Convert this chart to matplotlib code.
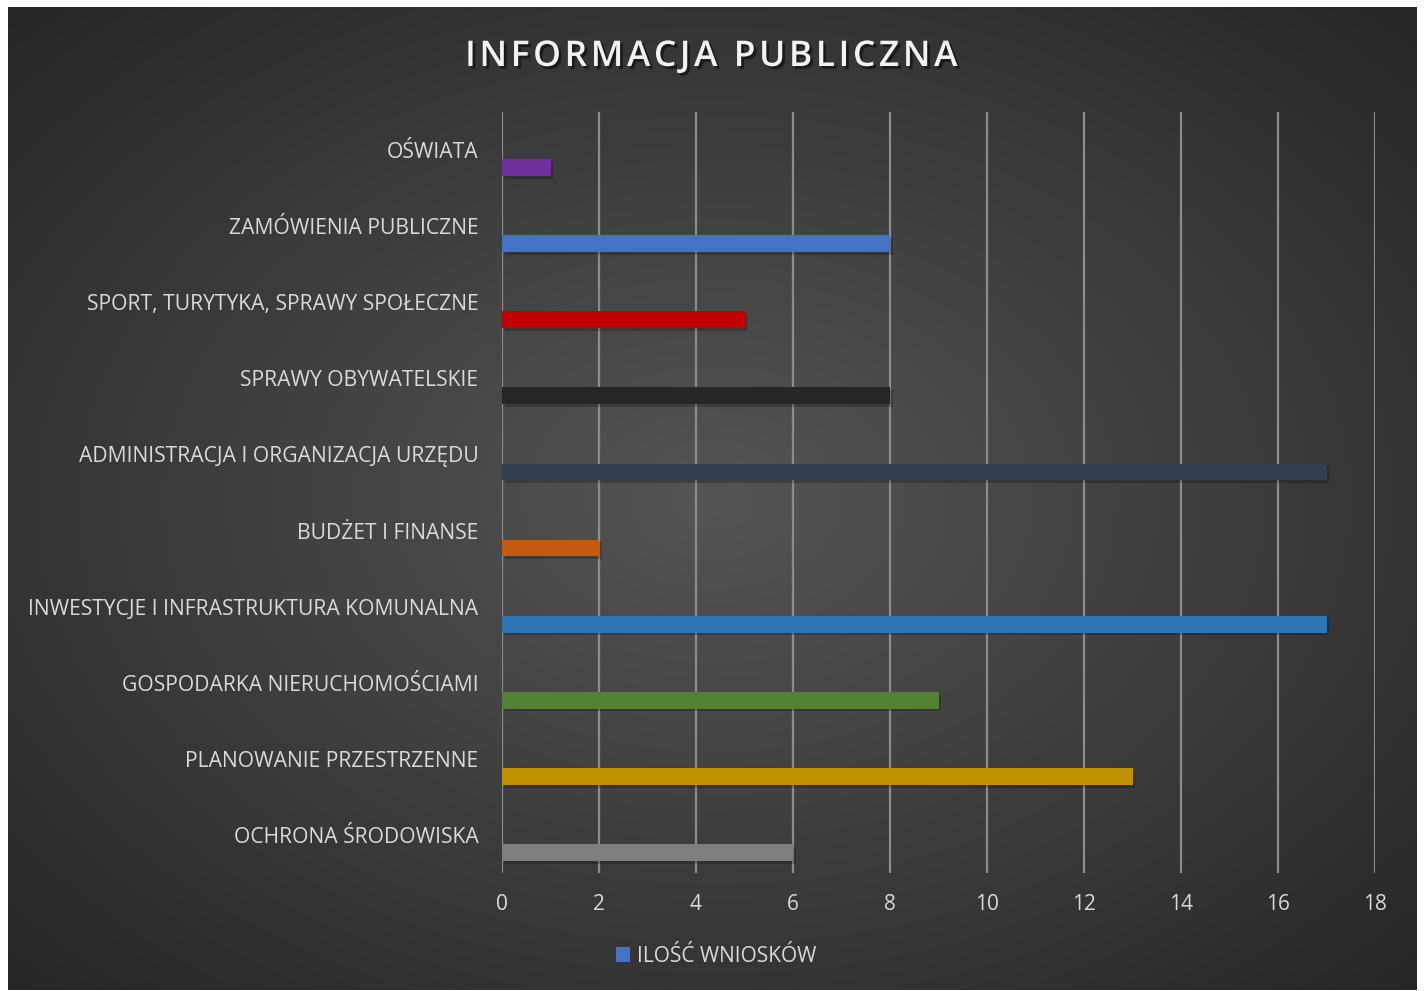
import numpy as np
import matplotlib
matplotlib.use("Agg")
import matplotlib.pyplot as plt
import matplotlib.patheffects as pe
from matplotlib.patches import Patch

categories = ["OŚWIATA", "ZAMÓWIENIA PUBLICZNE", "SPORT, TURYTYKA, SPRAWY SPOŁECZNE",
              "SPRAWY OBYWATELSKIE", "ADMINISTRACJA I ORGANIZACJA URZĘDU", "BUDŻET I FINANSE",
              "INWESTYCJE I INFRASTRUKTURA KOMUNALNA", "GOSPODARKA NIERUCHOMOŚCIAMI",
              "PLANOWANIE PRZESTRZENNE", "OCHRONA ŚRODOWISKA"]
values = [1, 8, 5, 8, 17, 2, 17, 9, 13, 6]
colors = ["#7030A0", "#4472C4", "#C00000", "#262626", "#333F50", "#C55A11",
          "#2E75B6", "#548235", "#BF9000", "#7F7F7F"]
xticks = [0, 2, 4, 6, 8, 10, 12, 14, 16, 18]
title = "INFORMACJA PUBLICZNA"
legend_label = "ILOŚĆ WNIOSKÓW"

plt.rcParams['font.family'] = ['Open Sans', 'DejaVu Sans']

W, H = 1424, 991
fig = plt.figure(figsize=(W / 100, H / 100), dpi=100)
fig.patch.set_facecolor("white")

# background card with radial gradient
bg = fig.add_axes([8 / W, 1 - 990 / H, (1417 - 8) / W, (990 - 7) / H])
bg.set_axis_off()
yy, xx = np.mgrid[0:300, 0:430]
cx, cy = 215, 150
r = np.sqrt(((xx - cx) / 215) ** 2 + ((yy - cy) / 150) ** 2) / np.sqrt(2)
r = np.clip(r, 0, 1)
c0 = np.array([0x55, 0x55, 0x55]) / 255
c1 = np.array([0x26, 0x26, 0x26]) / 255
img = c0[None, None, :] * (1 - r[..., None]) + c1[None, None, :] * r[..., None]
bg.imshow(img, aspect="auto", extent=[0, 1, 0, 1], interpolation="bilinear")
bg.set_xlim(0, 1)
bg.set_ylim(0, 1)

# main axes
x0, x1 = 502, 1375
y0, y1 = 112, 873
ax = fig.add_axes([x0 / W, 1 - y1 / H, (x1 - x0) / W, (y1 - y0) / H])
ax.set_facecolor("none")
n = len(categories)
pos = np.arange(n)
bar_off = 0.23
bars = ax.barh(pos + bar_off, values, height=0.22, color=colors, zorder=3)
for b in bars:
    b.set_path_effects([pe.SimplePatchShadow(offset=(2, -2), shadow_rgbFace="black", alpha=0.22), pe.Normal()])
ax.set_ylim(n - 0.5, -0.5)
ax.set_xlim(0, 18)
ax.set_xticks(xticks)
ax.set_xticklabels([str(t) for t in xticks])
ax.set_yticks(pos)
ax.set_yticklabels(categories)
ax.grid(axis="x", color="#8C8C8C", linewidth=1.6, zorder=0)
for s in ax.spines.values():
    s.set_visible(False)
ax.tick_params(axis="y", length=0, pad=17, labelsize=15.2, labelcolor="#D9D9D9")
ax.tick_params(axis="x", length=0, pad=15, labelsize=15, labelcolor="#D9D9D9")

spaced_title = "\u200a".join(list(title))
fig.text(711 / W, 1 - 57 / H, spaced_title,
         ha="center", va="center", fontsize=25.5, fontweight="semibold", color="#F2F2F2",
         path_effects=[pe.withSimplePatchShadow(offset=(2, -2), shadow_rgbFace="black", alpha=0.5)])

leg = fig.legend(handles=[Patch(facecolor="#4472C4", label=legend_label)],
                 loc="center", bbox_to_anchor=(716 / W, 1 - 956 / H), frameon=False,
                 fontsize=15, handlelength=0.7, handleheight=0.7, handletextpad=0.3)
for t in leg.get_texts():
    t.set_color("#D9D9D9")

fig.savefig("out.png", dpi=100, facecolor=fig.get_facecolor())
